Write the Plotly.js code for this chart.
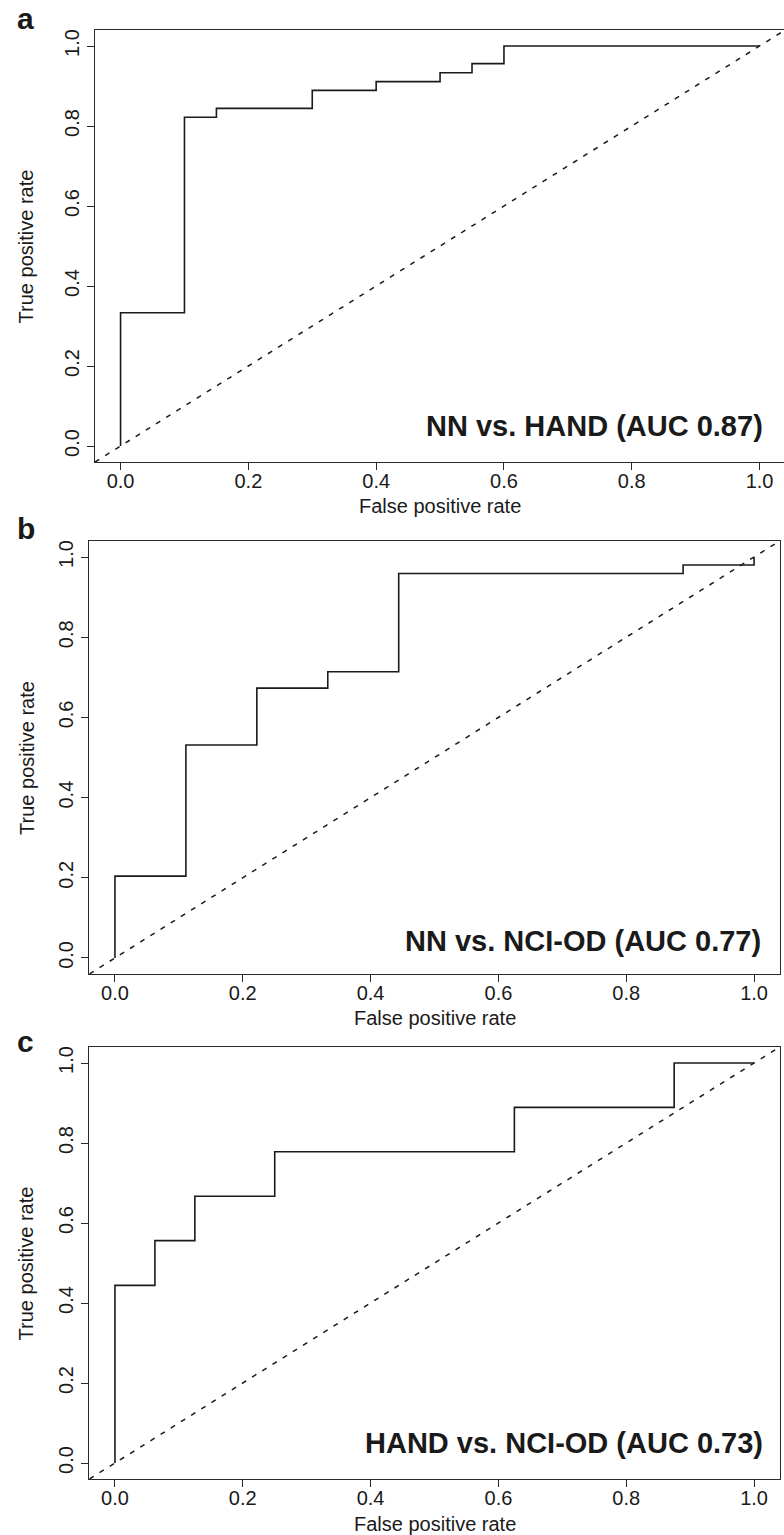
<!DOCTYPE html>
<html>
<head>
<meta charset="utf-8">
<script src="https://cdn.plot.ly/plotly-3.0.1.min.js"></script>
<style>html,body{margin:0;padding:0;background:#fff;}#chart{width:784px;height:1535px;}</style>
</head>
<body>
<div id="chart"></div>
<script>
// ---- Data ----
const panelLetters = ['a', 'b', 'c'];
const aucLabels = ['NN vs. HAND (AUC 0.87)', 'NN vs. NCI-OD (AUC 0.77)', 'HAND vs. NCI-OD (AUC 0.73)'];

// ROC step points (false positive rate, true positive rate), drawn as horizontal-then-vertical steps
const fprA = [0, 0, 0.10, 0.15, 0.30, 0.40, 0.50, 0.55, 0.60, 1.00];
const tprA = [0, 0.333, 0.822, 0.844, 0.889, 0.911, 0.933, 0.956, 1.00, 1.00];

const fprB = [0, 0, 0.111, 0.222, 0.333, 0.444, 0.889, 1.00];
const tprB = [0, 0.204, 0.531, 0.673, 0.714, 0.959, 0.980, 1.00];

const fprC = [0, 0, 0.0625, 0.125, 0.25, 0.625, 0.875, 1.00];
const tprC = [0, 0.444, 0.556, 0.667, 0.778, 0.889, 1.00, 1.00];

const tickValues = [0, 0.2, 0.4, 0.6, 0.8, 1.0];
const tickLabels = ['0.0', '0.2', '0.4', '0.6', '0.8', '1.0'];
const axisRange = [-0.04, 1.04];   // chance diagonal spans the full axis range
const xTitle = 'False positive rate';
const yTitle = 'True positive rate';

// ---- Layout geometry (pixels) ----
const W = 784, H = 1535;
const FONT = 'Liberation Sans, Arial, Helvetica, sans-serif';
const INK = '#1a1a1a';
const panels = [
  {x0: 95,   x1: 784,   xr: [-0.04, -0.04 + 689 / 639], top: 30,   bot: 462,  mirrorY: false, auc: {x: 1.009, base: 436}, letter: {x: 15, base: 29}, xt: {cx: 440, base: 513}},
  {x0: 89.4, x1: 779.6, xr: [-0.04, 1.04],              top: 541,  bot: 974,  mirrorY: true,  auc: {x: 1.014, base: 951}, letter: {x: 15, base: 539}, xt: {cx: 434.5, base: 1025}},
  {x0: 89.4, x1: 779.6, xr: [-0.04, 1.04],              top: 1047, bot: 1479, mirrorY: true,  auc: {x: 1.017, base: 1453}, letter: {x: 15, base: 1052}, xt: {cx: 434.5, base: 1531}}
];
const fprs = [fprA, fprB, fprC];
const tprs = [tprA, tprB, tprC];

const px = v => v / W;
const py = v => 1 - v / H;
const mid = (base, fs) => base - 0.3465 * fs;

const data = [];
const layout = {
  width: W, height: H,
  margin: {l: 0, r: 0, t: 0, b: 0},
  paper_bgcolor: '#fff', plot_bgcolor: '#fff',
  showlegend: false,
  font: {family: FONT, color: INK},
  annotations: []
};

panels.forEach((p, i) => {
  const sfx = i === 0 ? '' : String(i + 1);
  const xa = 'x' + sfx, ya = 'y' + sfx;
  const common = {
    showgrid: false, zeroline: false, showline: true,
    linecolor: '#2a2a2a', linewidth: 1.3,
    ticks: 'outside', ticklen: 7, tickwidth: 1, tickcolor: '#2a2a2a',
    tickvals: tickValues, ticktext: tickLabels,
    tickfont: {family: FONT, size: 20, color: INK},
    fixedrange: true
  };
  layout['xaxis' + sfx] = Object.assign({}, common, {
    domain: [px(p.x0), Math.min(1, px(p.x1))], range: p.xr, anchor: ya, mirror: true,
    ticklabelstandoff: -6
  });
  layout['yaxis' + sfx] = Object.assign({}, common, {
    domain: [py(p.bot), py(p.top)], range: axisRange, anchor: xa,
    mirror: p.mirrorY, tickangle: -90
  });

  // chance diagonal
  data.push({
    x: axisRange, y: axisRange, xaxis: xa, yaxis: ya, mode: 'lines',
    line: {color: INK, width: 1.5, dash: '5px,7px'}, hoverinfo: 'skip'
  });
  // ROC curve
  data.push({
    x: fprs[i], y: tprs[i], xaxis: xa, yaxis: ya, mode: 'lines',
    line: {color: INK, width: 1.6, shape: 'hv'}
  });

  // AUC label
  layout.annotations.push({
    text: '<b>' + aucLabels[i] + '</b>', xref: xa, x: p.auc.x, xanchor: 'right',
    yref: 'paper', y: py(mid(p.auc.base, 29)), yanchor: 'middle',
    showarrow: false, font: {family: FONT, size: 29, color: INK}
  });
  // panel letter
  layout.annotations.push({
    text: '<b>' + panelLetters[i] + '</b>', xref: 'paper', x: px(p.letter.x), xanchor: 'left',
    yref: 'paper', y: py(mid(p.letter.base, 30)), yanchor: 'middle',
    showarrow: false, font: {family: FONT, size: 30, color: INK}
  });
  // x axis title
  layout.annotations.push({
    text: xTitle, xref: 'paper', x: px(p.xt.cx), xanchor: 'center',
    yref: 'paper', y: py(mid(p.xt.base, 20)), yanchor: 'middle',
    showarrow: false, font: {family: FONT, size: 20, color: INK}
  });
  // y axis title
  layout.annotations.push({
    text: yTitle, xref: 'paper', x: px(26.4), xanchor: 'center',
    yref: 'paper', y: py((p.top + p.bot) / 2), yanchor: 'middle', textangle: -90,
    showarrow: false, font: {family: FONT, size: 20, color: INK}
  });
});

Plotly.newPlot('chart', data, layout, {staticPlot: true, displayModeBar: false});
</script>
</body>
</html>
